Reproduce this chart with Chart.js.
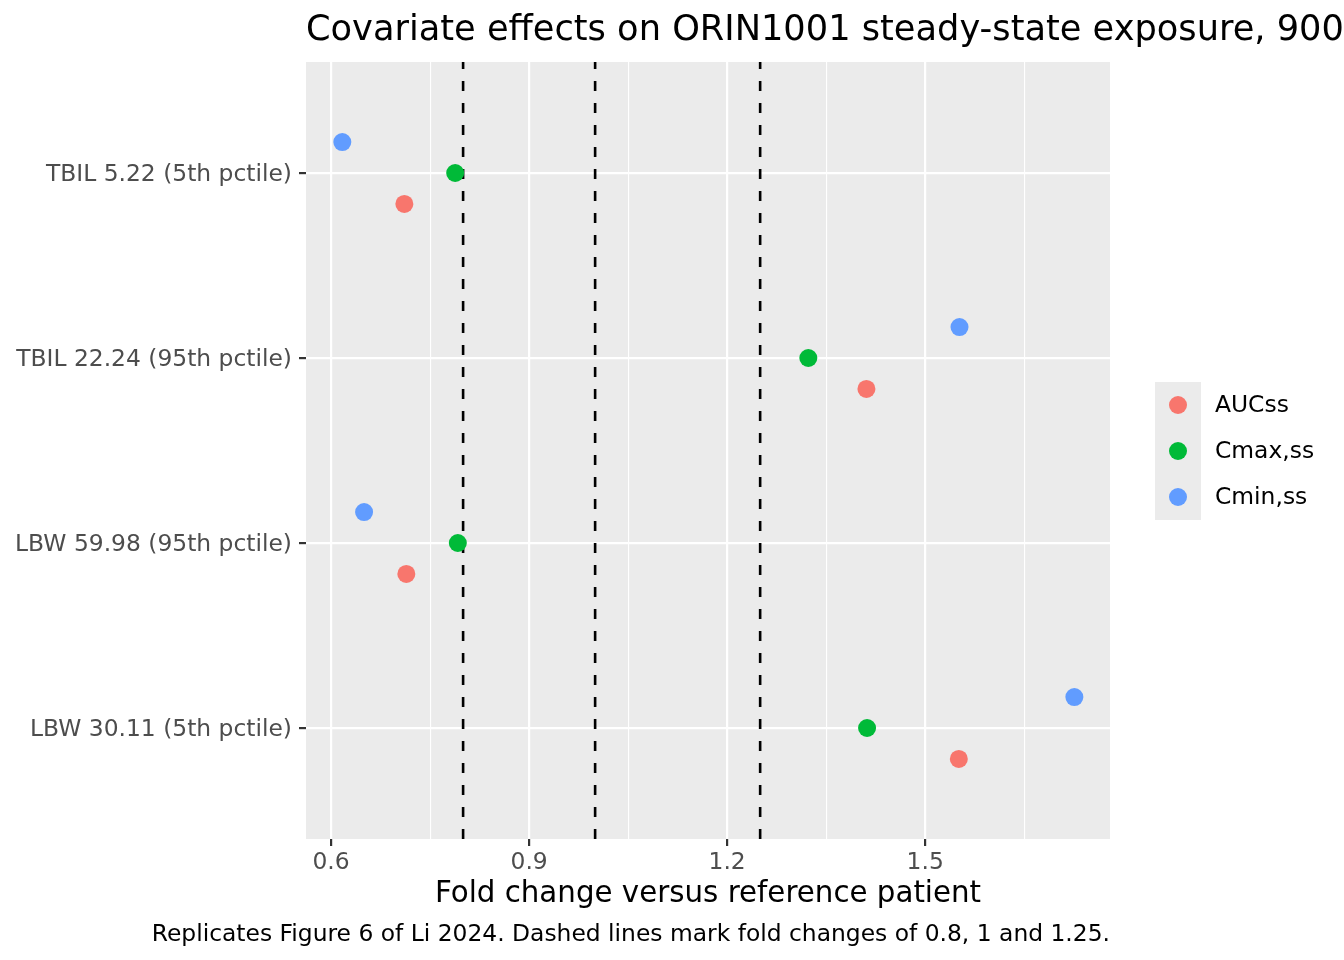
<!DOCTYPE html>
<html lang="en">
<head>
    <meta charset="UTF-8">
    <title>Covariate effects on ORIN1001 steady-state exposure</title>
    <script src="https://cdnjs.cloudflare.com/ajax/libs/Chart.js/4.4.1/chart.umd.min.js"></script>
    <style>
        html, body { margin: 0; padding: 0; background: #ffffff; }
        .chart-container { position: relative; width: 1344px; height: 960px; }
    </style>
</head>
<body>
    <div class="chart-container">
        <canvas id="forestChart" width="1344" height="960"></canvas>
    </div>

    <script>
        // Covariate scenarios, bottom to top on the y axis
        const categories = [
            'LBW 30.11 (5th pctile)',
            'LBW 59.98 (95th pctile)',
            'TBIL 22.24 (95th pctile)',
            'TBIL 5.22 (5th pctile)'
        ];

        // Fold change vs reference patient, same order as categories
        const aucValues  = [1.551, 0.714, 1.411, 0.711];
        const cmaxValues = [1.412, 0.792, 1.323, 0.788];
        const cminValues = [1.726, 0.650, 1.552, 0.617];

        const seriesNames = ['AUCss', 'Cmax,ss', 'Cmin,ss'];
        const seriesColors = ['#F8766D', '#00BA38', '#619CFF'];
        // vertical dodge of each series within a category
        const dodgeOffsets = [-0.167, 0, 0.167];

        const xTicks = [0.6, 0.9, 1.2, 1.5];
        const xMinorTicks = [0.75, 1.05, 1.35, 1.65];
        const refLines = [0.8, 1, 1.25];

        const titleText = 'Covariate effects on ORIN1001 steady-state exposure, 900';
        const xTitle = 'Fold change versus reference patient';
        const captionText = 'Replicates Figure 6 of Li 2024. Dashed lines mark fold changes of 0.8, 1 and 1.25.';

        const FONT = '"DejaVu Sans", sans-serif';

        function toPoints(values, offset) {
            return values.map((v, i) => ({ x: v, y: i + 1 + offset }));
        }

        const datasets = [aucValues, cmaxValues, cminValues].map((vals, i) => ({
            label: seriesNames[i],
            data: toPoints(vals, dodgeOffsets[i]),
            backgroundColor: seriesColors[i],
            borderColor: seriesColors[i],
            borderWidth: 0,
            pointRadius: 9,
            pointHoverRadius: 9
        }));

        // grey panel behind the plot
        const panelBackground = {
            id: 'panelBackground',
            beforeDraw(chart) {
                const { ctx, chartArea: a } = chart;
                ctx.save();
                ctx.fillStyle = '#EBEBEB';
                ctx.fillRect(a.left, a.top, a.right - a.left, a.bottom - a.top);
                ctx.restore();
            }
        };

        // dashed reference lines, drawn over gridlines but under points
        const refLinesPlugin = {
            id: 'refLines',
            beforeDatasetsDraw(chart) {
                const { ctx, chartArea: a, scales } = chart;
                ctx.save();
                ctx.strokeStyle = '#000000';
                ctx.lineWidth = 2.6;
                ctx.setLineDash([10, 12]);
                refLines.forEach(v => {
                    const px = scales.x.getPixelForValue(v);
                    ctx.beginPath();
                    ctx.moveTo(px, a.bottom);
                    ctx.lineTo(px, a.top);
                    ctx.stroke();
                });
                ctx.restore();
            }
        };

        // title, axis title, caption and legend drawn in ggplot positions
        const textsPlugin = {
            id: 'texts',
            afterDraw(chart) {
                const { ctx, chartArea: a } = chart;
                ctx.save();
                ctx.fillStyle = '#000000';
                ctx.textBaseline = 'alphabetic';

                ctx.font = '35.2px ' + FONT;
                ctx.textAlign = 'left';
                ctx.fillText(titleText, a.left, 40);

                ctx.font = '29.3px ' + FONT;
                ctx.textAlign = 'center';
                ctx.fillText(xTitle, (a.left + a.right) / 2, 902);

                ctx.font = '23.4px ' + FONT;
                ctx.textAlign = 'right';
                ctx.fillText(captionText, a.right, 941);

                // legend
                const lx = 1155, ly = 382, kw = 46, kh = 46;
                ctx.fillStyle = '#EBEBEB';
                ctx.fillRect(lx, ly, kw, kh * seriesNames.length);
                ctx.textAlign = 'left';
                ctx.textBaseline = 'middle';
                seriesNames.forEach((name, i) => {
                    const cy = ly + kh * i + kh / 2;
                    ctx.fillStyle = seriesColors[i];
                    ctx.beginPath();
                    ctx.arc(lx + kw / 2, cy, 9, 0, Math.PI * 2);
                    ctx.fill();
                    ctx.fillStyle = '#000000';
                    ctx.fillText(name, lx + kw + 14, cy + 1);
                });
                ctx.restore();
            }
        };

        const ctx = document.getElementById('forestChart').getContext('2d');
        const chart = new Chart(ctx, {
            type: 'scatter',
            data: { datasets: datasets },
            options: {
                responsive: false,
                animation: false,
                devicePixelRatio: 1,
                layout: { padding: { top: 62, right: 234, left: 0, bottom: 0 } },
                plugins: {
                    legend: { display: false },
                    title: { display: false },
                    tooltip: { enabled: false }
                },
                scales: {
                    x: {
                        type: 'linear',
                        min: 0.562,
                        max: 1.78,
                        afterBuildTicks(scale) {
                            scale.ticks = xTicks.concat(xMinorTicks)
                                .sort((p, q) => p - q)
                                .map(v => ({ value: v, major: xTicks.includes(v) }));
                        },
                        afterFit(scale) { scale.height = 121; },
                        border: { display: false },
                        grid: {
                            color: '#FFFFFF',
                            lineWidth: ctx => (ctx.tick && xTicks.includes(ctx.tick.value)) ? 2.2 : 1.1,
                            drawTicks: true,
                            tickLength: 7,
                            tickColor: ctx => (ctx.tick && xTicks.includes(ctx.tick.value)) ? '#333333' : 'rgba(0,0,0,0)',
                            tickWidth: 2.2
                        },
                        ticks: {
                            autoSkip: false,
                            maxRotation: 0,
                            padding: 3,
                            color: '#4D4D4D',
                            font: { family: FONT, size: 23.4 },
                            callback: v => xTicks.includes(v) ? v.toFixed(1) : ''
                        }
                    },
                    y: {
                        type: 'linear',
                        min: 0.4,
                        max: 4.6,
                        afterBuildTicks(scale) {
                            scale.ticks = categories.map((c, i) => ({ value: i + 1 }));
                        },
                        afterFit(scale) { scale.width = 306; },
                        border: { display: false },
                        grid: {
                            color: '#FFFFFF',
                            lineWidth: 2.2,
                            drawTicks: true,
                            tickLength: 7,
                            tickColor: '#333333',
                            tickWidth: 2.2
                        },
                        ticks: {
                            autoSkip: false,
                            padding: 7,
                            labelOffset: 1.5,
                            color: '#4D4D4D',
                            font: { family: FONT, size: 23.4 },
                            callback: v => categories[v - 1] || ''
                        }
                    }
                }
            },
            plugins: [panelBackground, refLinesPlugin, textsPlugin]
        });
    </script>
</body>
</html>
